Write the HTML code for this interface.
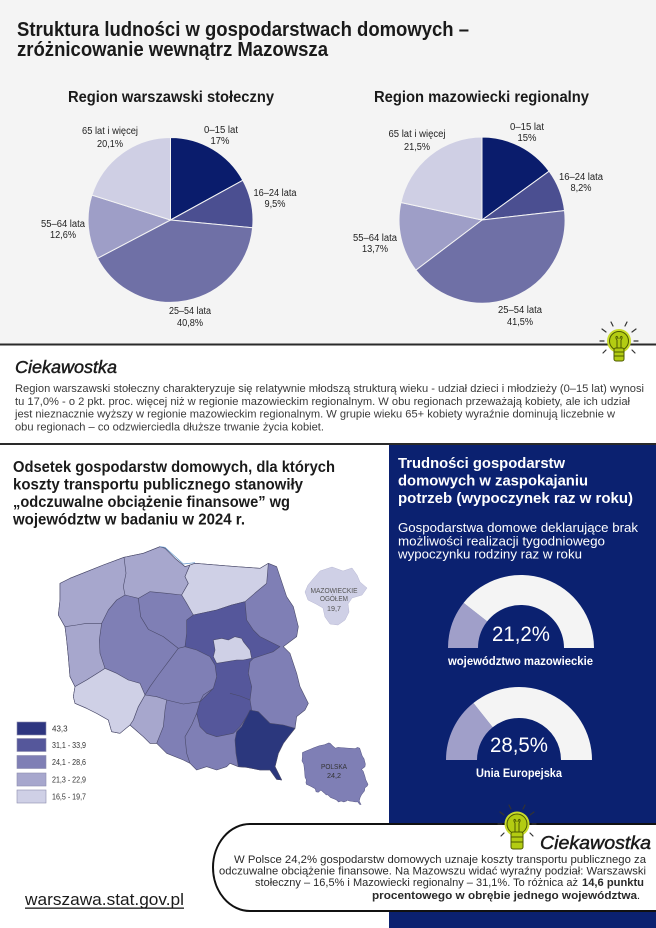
<!DOCTYPE html>
<html><head><meta charset="utf-8"><style>
html,body{margin:0;padding:0;background:#fff;}
svg{display:block;}
text{font-family:"Liberation Sans Narrow","Liberation Sans",sans-serif;}
</style></head><body>
<svg width="656" height="928" viewBox="0 0 656 928" xmlns="http://www.w3.org/2000/svg">
<rect x="0" y="0" width="656" height="928" fill="#ffffff"/>
<rect x="0" y="0" width="656" height="344" fill="#f4f4f4"/>

<!-- Title -->
<text x="17" y="36" font-size="20" font-weight="bold" fill="#1a1a1a" textLength="452" lengthAdjust="spacingAndGlyphs">Struktura ludności w gospodarstwach domowych –</text>
<text x="17" y="56" font-size="20" font-weight="bold" fill="#1a1a1a" textLength="311" lengthAdjust="spacingAndGlyphs">zróżnicowanie wewnątrz Mazowsza</text>

<text x="68" y="102" font-size="16" font-weight="bold" fill="#1a1a1a" textLength="206" lengthAdjust="spacingAndGlyphs">Region warszawski stołeczny</text>
<text x="374" y="102" font-size="16" font-weight="bold" fill="#1a1a1a" textLength="215" lengthAdjust="spacingAndGlyphs">Region mazowiecki regionalny</text>

<!-- Left pie -->
<g stroke="#f4f4f4" stroke-width="1">
<path d="M170.5,220 L170.5,137.5 A82.5,82.5 0 0 1 242.8,180.3 Z" fill="#0a1c6c"/>
<path d="M170.5,220 L242.8,180.3 A82.5,82.5 0 0 1 252.6,227.8 Z" fill="#4b4f91"/>
<path d="M170.5,220 L252.6,227.8 A82.5,82.5 0 0 1 97.5,258.3 Z" fill="#6f70a6"/>
<path d="M170.5,220 L97.5,258.3 A82.5,82.5 0 0 1 91.9,195.1 Z" fill="#9e9ec7"/>
<path d="M170.5,220 L91.9,195.1 A82.5,82.5 0 0 1 170.5,137.5 Z" fill="#cfcfe4"/>
</g>
<!-- Right pie -->
<g stroke="#f4f4f4" stroke-width="1">
<path d="M482,220 L482,137 A83,83 0 0 1 549.1,171.2 Z" fill="#0a1c6c"/>
<path d="M482,220 L549.1,171.2 A83,83 0 0 1 564.5,210.6 Z" fill="#4b4f91"/>
<path d="M482,220 L564.5,210.6 A83,83 0 0 1 415.8,270.1 Z" fill="#6f70a6"/>
<path d="M482,220 L415.8,270.1 A83,83 0 0 1 400.9,202.5 Z" fill="#9e9ec7"/>
<path d="M482,220 L400.9,202.5 A83,83 0 0 1 482,137 Z" fill="#cfcfe4"/>
</g>

<!-- Pie labels -->
<g font-size="10" fill="#222" text-anchor="middle">
<text x="110" y="134" textLength="56" lengthAdjust="spacingAndGlyphs">65 lat i więcej</text>
<text x="110" y="147" textLength="26" lengthAdjust="spacingAndGlyphs">20,1%</text>
<text x="221" y="133" textLength="34" lengthAdjust="spacingAndGlyphs">0–15 lat</text>
<text x="220" y="144" textLength="19" lengthAdjust="spacingAndGlyphs">17%</text>
<text x="275" y="196" textLength="43" lengthAdjust="spacingAndGlyphs">16–24 lata</text>
<text x="275" y="207" textLength="21" lengthAdjust="spacingAndGlyphs">9,5%</text>
<text x="63" y="227" textLength="44" lengthAdjust="spacingAndGlyphs">55–64 lata</text>
<text x="63" y="238" textLength="26" lengthAdjust="spacingAndGlyphs">12,6%</text>
<text x="190" y="314" textLength="42" lengthAdjust="spacingAndGlyphs">25–54 lata</text>
<text x="190" y="326" textLength="26" lengthAdjust="spacingAndGlyphs">40,8%</text>

<text x="417" y="137" textLength="57" lengthAdjust="spacingAndGlyphs">65 lat i więcej</text>
<text x="417" y="150" textLength="26" lengthAdjust="spacingAndGlyphs">21,5%</text>
<text x="527" y="130" textLength="34" lengthAdjust="spacingAndGlyphs">0–15 lat</text>
<text x="527" y="141" textLength="19" lengthAdjust="spacingAndGlyphs">15%</text>
<text x="581" y="180" textLength="44" lengthAdjust="spacingAndGlyphs">16–24 lata</text>
<text x="581" y="191" textLength="21" lengthAdjust="spacingAndGlyphs">8,2%</text>
<text x="375" y="241" textLength="44" lengthAdjust="spacingAndGlyphs">55–64 lata</text>
<text x="375" y="252" textLength="26" lengthAdjust="spacingAndGlyphs">13,7%</text>
<text x="520" y="313" textLength="44" lengthAdjust="spacingAndGlyphs">25–54 lata</text>
<text x="520" y="325" textLength="26" lengthAdjust="spacingAndGlyphs">41,5%</text>
</g>

<!-- Separator 1 -->
<rect x="0" y="343.5" width="656" height="2" fill="#2a2a2a"/>

<!-- Ciekawostka top -->
<text x="15" y="373" font-size="17.5" font-style="italic" fill="#1a1a1a" stroke="#1a1a1a" stroke-width="0.45" textLength="102" lengthAdjust="spacingAndGlyphs">Ciekawostka</text>
<g font-size="11" fill="#3a3a3a">
<text x="15" y="392" textLength="629" lengthAdjust="spacingAndGlyphs">Region warszawski stołeczny charakteryzuje się relatywnie młodszą strukturą wieku - udział dzieci i młodzieży (0–15 lat) wynosi</text>
<text x="15" y="404.8" textLength="615" lengthAdjust="spacingAndGlyphs">tu 17,0% - o 2 pkt. proc. więcej niż w regionie mazowieckim regionalnym. W obu regionach przeważają kobiety, ale ich udział</text>
<text x="15" y="417.5" textLength="600" lengthAdjust="spacingAndGlyphs">jest nieznacznie wyższy w regionie mazowieckim regionalnym. W grupie wieku 65+ kobiety wyraźnie dominują liczebnie w</text>
<text x="15" y="430.3" textLength="309" lengthAdjust="spacingAndGlyphs">obu regionach – co odzwierciedla dłuższe trwanie życia kobiet.</text>
</g>

<!-- Top bulb -->
<g transform="translate(619,341)">
<g stroke="#333" stroke-width="1.2" stroke-linecap="round">
<line x1="-13" y1="-9" x2="-17" y2="-12"/>
<line x1="-6" y1="-15" x2="-8" y2="-19"/>
<line x1="6" y1="-15" x2="8" y2="-19"/>
<line x1="13" y1="-9" x2="17" y2="-12"/>
<line x1="-15" y1="0" x2="-19" y2="0"/>
<line x1="15" y1="0" x2="19" y2="0"/>
<line x1="-13" y1="9" x2="-16" y2="12"/>
<line x1="13" y1="9" x2="16" y2="12"/>
</g>
<circle r="12" fill="#c9dc2c"/>
<circle r="9.5" fill="#b3cc12" stroke="#4d5a00" stroke-width="1"/>
<rect x="-5" y="7" width="10" height="13" rx="2" fill="#b3cc12" stroke="#4d5a00" stroke-width="1"/>
<line x1="-5" y1="11" x2="5" y2="11" stroke="#4d5a00" stroke-width="1"/>
<line x1="-5" y1="15" x2="5" y2="15" stroke="#4d5a00" stroke-width="1"/>
<path d="M-2,7 L-2,-1 M2,7 L2,-1 M-2,-1 C-5,-5 -1,-6 -1,-2 M2,-1 C5,-5 1,-6 1,-2" stroke="#4d5a00" stroke-width="1" fill="none"/>
</g>

<!-- Separator 2 -->
<rect x="0" y="443" width="656" height="2" fill="#2a2a2a"/>

<!-- Right navy panel -->
<rect x="389" y="445" width="267" height="483" fill="#0b2170"/>

<!-- Left title -->
<g font-size="15.5" font-weight="bold" fill="#1a1a1a">
<text x="13" y="472" textLength="322" lengthAdjust="spacingAndGlyphs">Odsetek gospodarstw domowych, dla których</text>
<text x="13" y="489.5" textLength="290" lengthAdjust="spacingAndGlyphs">koszty transportu publicznego stanowiły</text>
<text x="13" y="507" textLength="277" lengthAdjust="spacingAndGlyphs">„odczuwalne obciążenie finansowe” wg</text>
<text x="13" y="524.5" textLength="232" lengthAdjust="spacingAndGlyphs">województw w badaniu w 2024 r.</text>
</g>

<!-- Map -->
<g transform="translate(50,540) scale(0.33333)" stroke="#4a4a6a" stroke-width="1.8" stroke-linejoin="round">
<polygon fill="#7f7fb5" points="30,130 60,115 110,95 160,75 222,52 280,40 330,20 345,25 375,55 405,80 420,75 435,70 560,80 630,85 655,70 680,80 690,110 710,170 730,200 745,260 740,290 700,320 720,340 740,400 750,440 775,490 765,510 740,530 735,565 715,590 700,610 685,640 675,680 695,720 680,718 660,690 630,690 590,682 565,680 540,670 530,680 500,690 470,680 440,690 420,670 400,660 350,640 320,610 300,610 280,590 240,555 210,580 185,575 175,540 140,520 110,505 75,490 70,470 75,440 60,410 55,350 50,300 45,260 25,225 30,180"/>
<polygon fill="#a7a7cd" points="30,130 60,115 110,95 160,75 222,52 280,40 330,20 345,25 375,55 405,80 420,75 405,110 415,130 395,165 350,160 300,155 265,175 225,165 200,180 175,210 155,250 148,300 150,340 160,370 165,385 150,395 110,420 75,440 60,410 55,350 50,300 45,260 25,225 30,180"/>
<polygon fill="#a7a7cd" points="285,465 320,470 350,480 345,510 340,560 320,610 300,610 280,590 240,555 250,540 265,500"/>
<polygon fill="#cfd0e6" points="420,75 435,70 560,80 630,85 655,70 650,130 620,155 585,185 545,195 500,210 430,225 410,190 395,165 415,130 405,110"/>
<polygon fill="#cfd0e6" points="75,440 110,420 150,395 165,385 200,400 235,420 270,430 285,465 265,500 250,540 240,555 210,580 185,575 175,540 140,520 110,505 75,490 70,470"/>
<polygon fill="#55579b" points="430,225 500,210 545,195 585,185 590,240 610,270 630,290 660,305 690,320 670,335 640,345 610,355 600,365 595,400 605,440 600,480 605,510 590,530 570,560 550,580 500,590 470,580 450,560 440,520 450,485 470,465 490,445 500,410 495,375 480,350 440,330 405,320 410,280 410,240"/>
<polygon fill="#cfd0e6" points="490,300 515,295 535,300 555,290 575,295 580,305 600,330 605,355 580,360 560,360 530,365 500,370 490,350 495,330"/>
<polygon fill="#2b377d" points="600,510 625,515 645,535 660,550 700,555 735,565 715,590 700,610 685,640 675,680 695,720 680,718 660,690 630,690 590,682 565,680 558,640 555,600 560,575 575,560 590,530"/>
<g fill="none">
<polyline points="222,52 228,100 220,140 225,165"/>
<polyline points="45,260 80,255 110,250 155,250"/>
<polyline points="265,175 272,230 295,268 340,290 385,325 405,320"/>
<polyline points="385,325 355,365 325,405 300,440 285,465"/>
<polyline points="350,480 400,492 450,485"/>
<polyline points="440,520 425,555 405,590 410,640 420,670"/>
<polyline points="490,445 460,465 450,485"/>
<polyline points="540,460 570,468 600,480"/>
</g>
<polyline fill="none" stroke="#5a8fc8" stroke-width="2" points="330,20 345,22 400,72 435,68"/>
</g>

<!-- Mazowieckie mini -->
<polygon fill="#cfd0e6" stroke="#b8b8d4" stroke-width="0.5" points="320,571 332,567 343,571 352,568 357,575 360,582 367,588 362,595 352,598 348,604 349,612 345,620 338,625 330,624 325,617 323,608 316,604 308,600 305,592 308,585 313,579"/>
<g font-size="7" fill="#555" text-anchor="middle">
<text x="334" y="593" textLength="47" lengthAdjust="spacingAndGlyphs">MAZOWIECKIE</text>
<text x="334" y="601" textLength="28" lengthAdjust="spacingAndGlyphs">OGÓŁEM</text>
<text x="334" y="611" textLength="14" lengthAdjust="spacingAndGlyphs">19,7</text>
</g>

<!-- Poland mini -->
<g transform="translate(299.8,741.2) scale(0.088)">
<polygon fill="#7f7fb5" stroke="#5a5a88" stroke-width="6" points="30,130 60,115 110,95 160,75 222,52 280,40 330,20 345,25 375,55 405,80 420,75 435,70 560,80 630,85 655,70 680,80 690,110 710,170 730,200 745,260 740,290 700,320 720,340 740,400 750,440 775,490 765,510 740,530 735,565 715,590 700,610 685,640 675,680 695,720 680,718 660,690 630,690 590,682 565,680 540,670 530,680 500,690 470,680 440,690 420,670 400,660 350,640 320,610 300,610 280,590 240,555 210,580 185,575 175,540 140,520 110,505 75,490 70,470 75,440 60,410 55,350 50,300 45,260 25,225 30,180"/>
</g>
<g font-size="7" fill="#333" text-anchor="middle">
<text x="334" y="769" textLength="26" lengthAdjust="spacingAndGlyphs">POLSKA</text>
<text x="334" y="778" textLength="14" lengthAdjust="spacingAndGlyphs">24,2</text>
</g>

<!-- Legend -->
<g stroke="#8c8cae" stroke-width="0.6">
<rect x="17" y="722" width="29" height="13" fill="#2e3680"/>
<rect x="17" y="738.5" width="29" height="13" fill="#55579b"/>
<rect x="17" y="755.5" width="29" height="13" fill="#7f7fb5"/>
<rect x="17" y="773" width="29" height="13" fill="#a7a7cd"/>
<rect x="17" y="790" width="29" height="13" fill="#cfd0e6"/>
</g>
<g font-size="8" fill="#333">
<text x="52" y="731.5">43,3</text>
<text x="52" y="748" textLength="34" lengthAdjust="spacingAndGlyphs">31,1 - 33,9</text>
<text x="52" y="765" textLength="34" lengthAdjust="spacingAndGlyphs">24,1 - 28,6</text>
<text x="52" y="782.5" textLength="34" lengthAdjust="spacingAndGlyphs">21,3 - 22,9</text>
<text x="52" y="799.5" textLength="34" lengthAdjust="spacingAndGlyphs">16,5 - 19,7</text>
</g>

<!-- Right panel text -->
<g font-size="15" font-weight="bold" fill="#ffffff">
<text x="398" y="468" textLength="167" lengthAdjust="spacingAndGlyphs">Trudności gospodarstw</text>
<text x="398" y="485.5" textLength="190" lengthAdjust="spacingAndGlyphs">domowych w zaspokajaniu</text>
<text x="398" y="503" textLength="235" lengthAdjust="spacingAndGlyphs">potrzeb (wypoczynek raz w roku)</text>
</g>
<g font-size="12.5" fill="#ffffff">
<text x="398" y="532" textLength="240" lengthAdjust="spacingAndGlyphs">Gospodarstwa domowe deklarujące brak</text>
<text x="398" y="545.5" textLength="207" lengthAdjust="spacingAndGlyphs">możliwości realizacji tygodniowego</text>
<text x="398" y="558.5" textLength="184" lengthAdjust="spacingAndGlyphs">wypoczynku rodziny raz w roku</text>
</g>

<!-- Gauge 1 -->
<path d="M448,648 A73,73 0 0 1 463.6,602.9 L487.2,621.4 A43,43 0 0 0 478,648 Z" fill="#a09fc9"/>
<path d="M463.6,602.9 A73,73 0 0 1 594,648 L564,648 A43,43 0 0 0 487.2,621.4 Z" fill="#f4f4f4"/>
<text x="521" y="641" font-size="21" fill="#fff" text-anchor="middle" textLength="58" lengthAdjust="spacingAndGlyphs">21,2%</text>
<text x="520.5" y="665" font-size="12" font-weight="bold" fill="#fff" text-anchor="middle" textLength="145" lengthAdjust="spacingAndGlyphs">województwo mazowieckie</text>

<!-- Gauge 2 -->
<path d="M446,760 A73,73 0 0 1 473.4,703 L492.7,727.2 A42,42 0 0 0 477,760 Z" fill="#a09fc9"/>
<path d="M473.4,703 A73,73 0 0 1 592,760 L561,760 A42,42 0 0 0 492.7,727.2 Z" fill="#f4f4f4"/>
<text x="519" y="752" font-size="21" fill="#fff" text-anchor="middle" textLength="58" lengthAdjust="spacingAndGlyphs">28,5%</text>
<text x="519" y="777" font-size="12" font-weight="bold" fill="#fff" text-anchor="middle" textLength="86" lengthAdjust="spacingAndGlyphs">Unia Europejska</text>

<!-- Bottom ciekawostka box -->
<path d="M660,824 H250 A37,43.5 0 0 0 213,867.5 A37,43.5 0 0 0 250,911 H660 Z" fill="#ffffff" stroke="#111" stroke-width="2"/>

<!-- Bottom bulb -->
<g transform="translate(517,824)">
<g stroke="#333" stroke-width="1.2" stroke-linecap="round">
<line x1="-13" y1="-9" x2="-17" y2="-12"/>
<line x1="-6" y1="-15" x2="-8" y2="-19"/>
<line x1="6" y1="-15" x2="8" y2="-19"/>
<line x1="13" y1="-9" x2="17" y2="-12"/>
<line x1="-15" y1="0" x2="-19" y2="0"/>
<line x1="15" y1="0" x2="19" y2="0"/>
<line x1="-13" y1="9" x2="-16" y2="12"/>
<line x1="13" y1="9" x2="16" y2="12"/>
</g>
<circle r="12.5" fill="#c9dc2c"/>
<circle r="10" fill="#b3cc12" stroke="#4d5a00" stroke-width="1"/>
<rect x="-6" y="8" width="12" height="17" rx="2" fill="#b3cc12" stroke="#4d5a00" stroke-width="1"/>
<line x1="-6" y1="13" x2="6" y2="13" stroke="#4d5a00" stroke-width="1"/>
<line x1="-6" y1="18" x2="6" y2="18" stroke="#4d5a00" stroke-width="1"/>
<path d="M-2,8 L-2,-1 M2,8 L2,-1 M-2,-1 C-5,-5 -1,-6 -1,-2 M2,-1 C5,-5 1,-6 1,-2" stroke="#4d5a00" stroke-width="1" fill="none"/>
</g>

<text x="540" y="849" font-size="18" font-style="italic" fill="#1a1a1a" stroke="#1a1a1a" stroke-width="0.45" textLength="111" lengthAdjust="spacingAndGlyphs">Ciekawostka</text>
<g font-size="11" fill="#2a2a2a">
<text x="234" y="863" textLength="412" lengthAdjust="spacingAndGlyphs">W Polsce 24,2% gospodarstw domowych uznaje koszty transportu publicznego za</text>
<text x="219" y="874.5" textLength="427" lengthAdjust="spacingAndGlyphs">odczuwalne obciążenie finansowe. Na Mazowszu widać wyraźny podział:  Warszawski</text>
<text x="255" y="886" textLength="323" lengthAdjust="spacingAndGlyphs">stołeczny – 16,5% i Mazowiecki regionalny – 31,1%. To różnica aż</text>
<text x="582" y="886" font-weight="bold" textLength="62" lengthAdjust="spacingAndGlyphs">14,6 punktu</text>
<text x="372" y="899" font-weight="bold" textLength="265" lengthAdjust="spacingAndGlyphs">procentowego w obrębie jednego województwa</text>
<text x="637" y="899">.</text>
</g>

<!-- URL -->
<text x="25" y="905" font-size="17" fill="#1a1a1a" textLength="159" lengthAdjust="spacingAndGlyphs">warszawa.stat.gov.pl</text>
<rect x="25" y="907.5" width="159" height="1.3" fill="#1a1a1a"/>
</svg>
</body></html>
